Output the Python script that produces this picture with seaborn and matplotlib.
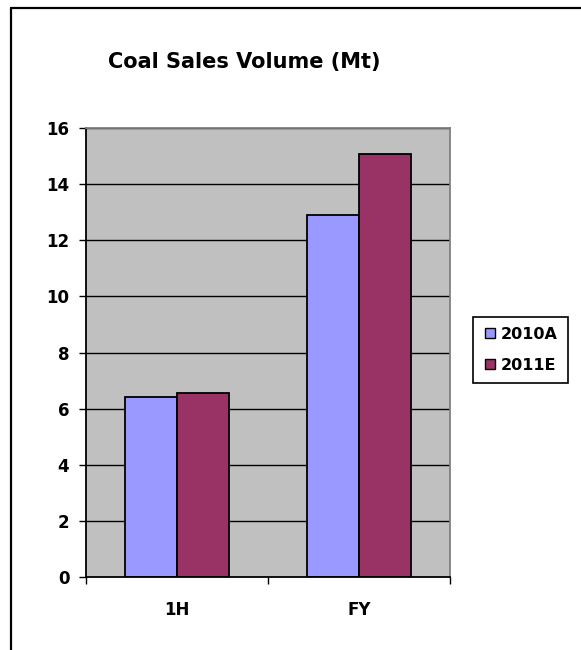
import matplotlib
matplotlib.use("Agg")
import matplotlib.pyplot as plt
from matplotlib.lines import Line2D
import pandas as pd
import seaborn as sns

categories = ["1H", "FY"]
series_names = ["2010A", "2011E"]
values_2010a = [6.42, 12.9]
values_2011e = [6.55, 15.06]
y_ticks = [0, 2, 4, 6, 8, 10, 12, 14, 16]
colors = ["#9999FF", "#993366"]

df = pd.DataFrame({
    "period": categories * 2,
    "series": [series_names[0]] * 2 + [series_names[1]] * 2,
    "volume": values_2010a + values_2011e,
})

sns.set_theme(style="white")
plt.rcParams["font.family"] = ["DejaVu Sans"]
plt.rcParams["font.weight"] = "bold"

fig = plt.figure(figsize=(5.81, 6.5), dpi=100)
ax = fig.add_axes([86 / 581, 73 / 650, 364 / 581, 449 / 650])
ax.set_facecolor("#C0C0C0")

# horizontal gridlines drawn under the bars
for yv in y_ticks[1:]:
    ax.axhline(yv, color="black", lw=1.0, zorder=0.5)

sns.barplot(data=df, x="period", y="volume", hue="series", order=categories,
            hue_order=series_names, palette=colors, saturation=1, width=0.571, gap=0,
            edgecolor="black", linewidth=1.3, ax=ax, legend=False, zorder=2)

ax.set_xlim(-0.5, 1.5)
ax.set_ylim(0, 16)
ax.set_yticks(y_ticks)
ax.set_yticklabels([str(v) for v in y_ticks], fontsize=12, fontweight="bold", color="black")
ax.set_xticks([0, 1])
ax.set_xticklabels(categories, fontsize=12, fontweight="bold", color="black")
ax.set_xticks([-0.5, 0.5, 1.5], minor=True)
ax.set_xlabel("")
ax.set_ylabel("")

ax.tick_params(axis="y", which="major", direction="out", length=5, width=1,
               color="black", pad=7, left=True)
ax.tick_params(axis="x", which="major", length=0, pad=17)
ax.tick_params(axis="x", which="minor", direction="out", length=5, width=1,
               color="black", bottom=True)

for side in ["left", "bottom"]:
    ax.spines[side].set_color("black")
    ax.spines[side].set_linewidth(1.3)
    ax.spines[side].set_visible(True)
for side in ["top", "right"]:
    ax.spines[side].set_color("#808080")
    ax.spines[side].set_linewidth(1.3)
    ax.spines[side].set_visible(True)

fig.text(244 / 581, 1 - 62 / 650, "Coal Sales Volume (Mt)", ha="center",
         va="center", fontsize=15, fontweight="bold", color="black")

handles = [Line2D([], [], marker="s", linestyle="none", markersize=7,
                  markerfacecolor=c, markeredgecolor="black", markeredgewidth=1)
           for c in colors]
leg = fig.legend(handles, series_names, loc="center", bbox_to_anchor=(520.5 / 581, 1 - 350 / 650),
                 frameon=True, fancybox=False, edgecolor="black", framealpha=1,
                 prop={"size": 11.5, "weight": "bold"}, handletextpad=0.3,
                 handlelength=0.8, labelspacing=1.0, borderpad=0.65)
leg.get_frame().set_linewidth(1.2)
for t in leg.get_texts():
    t.set_color("black")

# chart frame: left and top edges
fig.add_artist(Line2D([11 / 581, 11 / 581], [0, 1 - 8 / 650], color="black", lw=1.6,
                      transform=fig.transFigure))
fig.add_artist(Line2D([11 / 581, 1], [1 - 8 / 650, 1 - 8 / 650], color="black", lw=1.6,
                      transform=fig.transFigure))

fig.savefig("out.png", dpi=100, facecolor="white")
